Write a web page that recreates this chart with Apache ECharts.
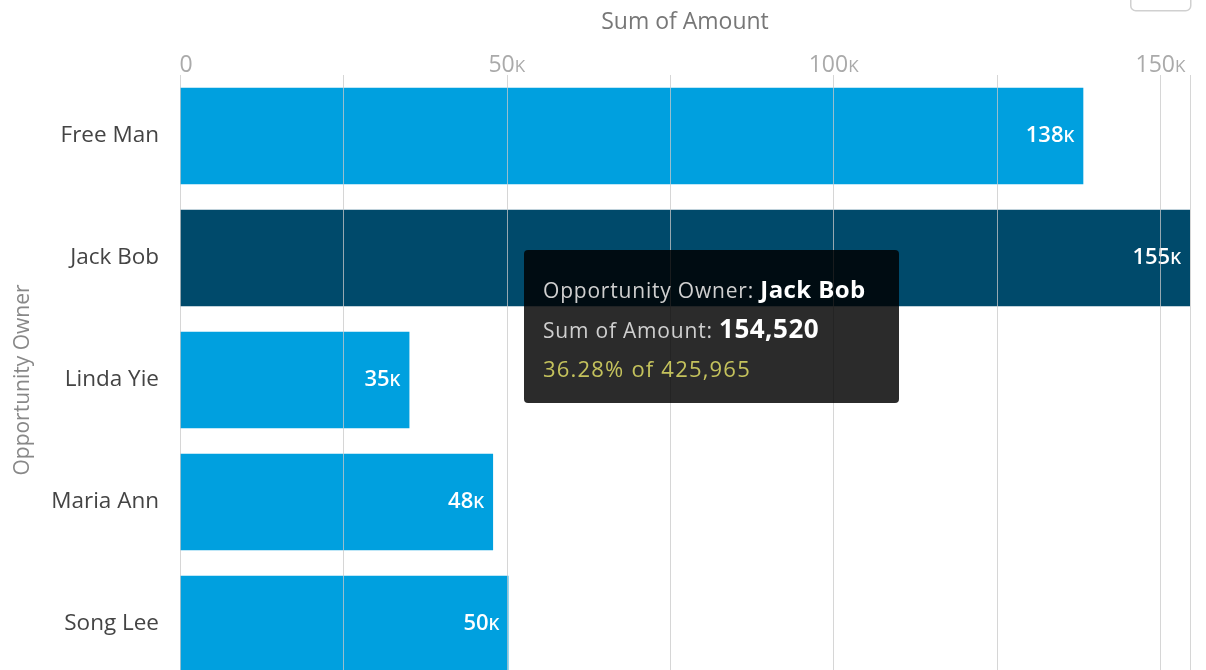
<!DOCTYPE html>
<html>
<head>
<meta charset="utf-8">
<script src="https://cdn.jsdelivr.net/npm/echarts@6/dist/echarts.min.js"></script>
<style>
  html, body { margin: 0; padding: 0; background: #fff; }
  #chart { width: 1206px; height: 670px; }
</style>
</head>
<body>
<div id="chart"></div>
<script>
const owners = ['Free Man', 'Jack Bob', 'Linda Yie', 'Maria Ann', 'Song Lee'];
const amounts = [138200, 154520, 35100, 47900, 50245];
const tickLabels = { 0: '0', 50000: '50', 100000: '100', 150000: '150' };
const selectedIndex = 1;

const FONT = "'Open Sans', Lato, sans-serif";
const total = amounts.reduce((a, b) => a + b, 0);

const myChart = echarts.init(document.getElementById('chart'));

const barData = amounts.map((v, i) => ({
  value: v,
  itemStyle: { color: i === selectedIndex ? '#004a6b' : '#00a0df' },
}));

const option = {
  animation: false,
  grid: { left: 180, right: 16, top: 75, height: 610, outerBoundsMode: 'none', containLabel: false },
  tooltip: {
    trigger: 'item',
    triggerOn: 'none',
    alwaysShowContent: true,
    transitionDuration: 0,
    position: [524, 250],
    backgroundColor: 'rgba(0,0,0,0.83)',
    borderWidth: 0,
    borderRadius: 4,
    padding: [20, 10, 16, 19],
    extraCssText: 'box-shadow:none;width:346px;',
    formatter(p) {
      const pct = (p.value / total * 100).toFixed(2);
      const fmt = (n) => n.toLocaleString('en-US');
      return `<div style="font-family:${FONT};line-height:38px;font-size:21px;color:#cfcfcf;letter-spacing:0.8px;white-space:nowrap;">
        <div>Opportunity Owner: <b style="color:#fff;font-size:24px;letter-spacing:0.4px;">${p.name}</b></div>
        <div>Sum of Amount: <b style="color:#fff;font-size:26px;letter-spacing:0.5px;">${fmt(p.value)}</b></div>
        <div style="color:#c4c25c;font-size:22px;letter-spacing:1.2px;">${pct}% of ${fmt(total)}</div>
      </div>`;
    },
  },
  xAxis: {
    type: 'value',
    position: 'top',
    min: 0,
    max: 154520,
    interval: 25000,
    z: 5,
    name: 'Sum of Amount',
    nameLocation: 'middle',
    nameGap: 41,
    nameTextStyle: { color: '#777', fontSize: 23, fontFamily: FONT },
    axisLine: { show: false },
    axisTick: { show: false },
    splitLine: { lineStyle: { color: 'rgba(200,200,200,0.75)', width: 1 } },
    axisLabel: {
      showMaxLabel: false,
      margin: -2,
      color: '#aaa',
      fontSize: 23,
      fontFamily: FONT,
      formatter(v) {
        if (!(v in tickLabels)) return '';
        return v === 0 ? '{z|0}' : tickLabels[v] + '{k|K}';
      },
      rich: {
        z: { fontSize: 23, color: '#aaa', fontFamily: FONT, padding: [0, 0, 0, 12] },
        k: { fontSize: 17, color: '#aaa', fontFamily: FONT, padding: [3, 0, 0, 0] },
      },
    },
  },
  yAxis: {
    type: 'category',
    data: owners,
    inverse: true,
    name: 'Opportunity Owner',
    nameLocation: 'middle',
    nameGap: 146,
    nameRotate: 90,
    nameTextStyle: { color: '#888', fontSize: 21, fontFamily: FONT },
    axisLine: { show: false },
    axisTick: { show: false },
    axisLabel: { color: '#444', fontSize: 22.5, fontFamily: FONT, margin: 21 },
  },
  series: [
    {
      name: 'Sum of Amount',
      type: 'bar',
      data: barData,
      barCategoryGap: '21%',
      emphasis: { disabled: true },
      label: {
        show: true,
        position: 'insideRight',
        distance: 9,
        color: '#fff',
        fontSize: 22,
        fontWeight: 600,
        fontFamily: FONT,
        formatter(p) {
          return Math.round(p.value / 1000) + '{k|K}';
        },
        rich: { k: { fontSize: 17, fontWeight: 600, color: '#fff', fontFamily: FONT, padding: [3, 0, 0, 0] } },
      },
    },
  ],
  graphic: [
    {
      type: 'rect',
      left: 1130,
      top: -10,
      shape: { width: 60, height: 20, r: 5 },
      style: { fill: '#fff', stroke: '#d0d0d0', lineWidth: 1.5 },
    },
  ],
};

myChart.setOption(option);
myChart.dispatchAction({ type: 'showTip', seriesIndex: 0, dataIndex: selectedIndex });
</script>
</body>
</html>
